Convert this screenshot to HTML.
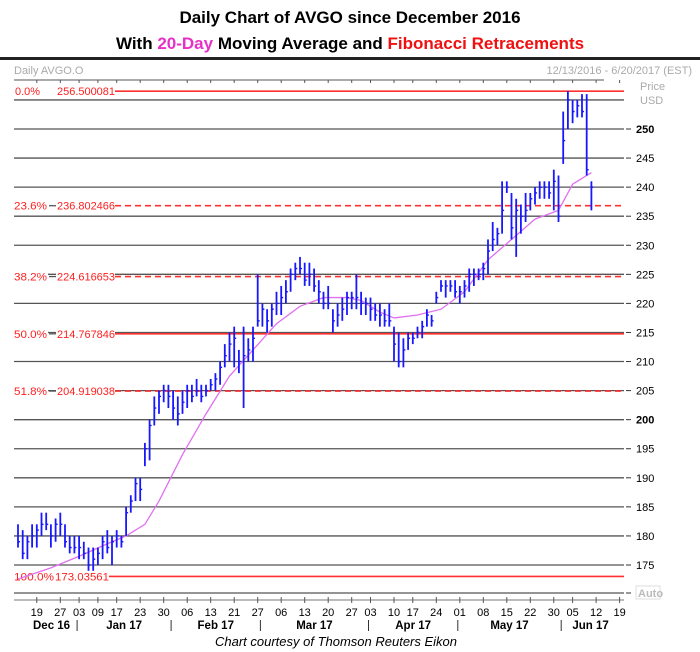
<!DOCTYPE html>
<html><head><meta charset="utf-8"><style>
body{margin:0;background:#fff;width:700px;height:652px;overflow:hidden;font-family:"Liberation Sans",sans-serif}
.t{position:absolute;left:0;width:700px;text-align:center;font-weight:bold;font-size:17px;color:#000}
</style></head><body>
<div class="t" style="top:8px">Daily Chart of AVGO since December 2016</div>
<div class="t" style="top:34px">With <span style="color:#e830c8">20-Day</span> Moving Average and <span style="color:#f01010">Fibonacci Retracements</span></div>
<svg id="c" width="700" height="652" style="position:absolute;left:0;top:0" xmlns="http://www.w3.org/2000/svg"></svg>
<script>
const hi=[182,181,180,182,182,184,184,182,183,184,182,180,180,
180,179,178,178,178,180,181,180,181,180,185,187,190,190,196,200,204,205,206,206,
205,204,205,206,206,207,206,206,207,208,210,213,215,216,212,216,214,216,
225,220,219,220,222,223,224,226,227,228,227,227,226,224,222,223,219,220,221,222,222,225,222,
221,221,220,220,219,220,216,215,214,215,215,216,217,219,218,222,224,224,224,
224,223,224,226,226,226,227,231,234,233,241,241,239,238,237,239,239,240,241,241,241,243,
242,253,256.5,255,255,256,256,241];
const lo=[178,176,176,178,178,180,181,178,179,180,178,177,177,
176,176,174,174,175,176,177,175,178,178,180,184,186,186,192,193,199,201,203,202,
200,199,201,202,203,204,203,204,205,205,206,209,210,209,208,202,210,210,
216,216,215,216,218,218,220,222,224,225,223,223,222,220,219,219,215,216,217,218,219,219,218,
218,217,217,216,216,216,210,209,209,212,213,214,214,216,216,220,222,221,222,
221,220,221,222,223,224,224,225,229,230,232,239,231,228,232,234,236,237,238,238,238,236,
234,244,250,251,252,252,242,236];
const cl=[179,177,179,180,181,182,182,180,182,182,179,178,178,
178,177,175,176,177,179,178,179,180,179,184,186,189,188,195,199,202,204,205,204,
202,201,203,205,204,205,204,205,206,207,209,211,213,214,210,211,212,214,
217,219,217,219,220,221,222,225,226,226,224,225,223,222,220,220,217,218,219,221,221,221,220,
220,219,218,218,217,217,213,210,212,214,214,215,216,218,217,221,223,223,223,
222,222,223,225,225,225,226,229,231,232,236,240,233,236,235,236,238,239,240,240,239,241,
235,248,255,253,254,253,243,240];
const maIdx=[0,7,13,20,23,27,30,35,40,45,50,55,60,65,70,73,77,80,85,90,95,100,105,110,115,118,122];
const maVal=[172.6,174.5,176.5,179,180,182,186,194,201,207.5,212,216.5,219.5,221,221,220.5,218.5,217.5,218,219,222,227.5,231,234.5,236,240.5,242.5];
const fibPct=["0.0%","23.6%","38.2%","50.0%","51.8%","100.0%"];
const fibVal=[256.500081,236.802466,224.616653,214.767846,204.919038,173.03561];
const fibDash=[false,true,true,false,true,false];
const gridVals=[175,180,185,190,195,200,205,210,215,220,225,230,235,240,245,250,255];
const dayLabels=["19","27","03","09","17","23","30","06","13","21","27","06","13","20","27","03","10","17","24","01","08","15","22","30","05","12","19"];
const dayIdx=[4,9,13,17,21,26,31,36,41,46,51,56,61,66,71,75,80,84,89,94,99,104,109,114,118,123,128];
const months=["Dec 16","Jan 17","Feb 17","Mar 17","Apr 17","May 17","Jun 17"];
const monthStart=[-1,13,33,52,75,94,116];
const NS="http://www.w3.org/2000/svg",svg=document.getElementById('c');
const X=i=>18+i*4.7, Y=p=>129+(250-p)*5.8133;
function mk(t,a,txt){const e=document.createElementNS(NS,t);for(const k in a)e.setAttribute(k,a[k]);if(txt!=null)e.textContent=txt;svg.appendChild(e);return e;}
let e;
e=mk('rect',{x:0,y:57,width:700,height:3,fill:'#222'});


e=mk('text',{x:14,y:74,'font-size':11,fill:'#aaa'},'Daily AVGO.O');


e=mk('text',{x:692,y:74,'font-size':11,fill:'#aaa','text-anchor':'end'},'12/13/2016 - 6/20/2017 (EST)');


mk('line',{x1:14,y1:80,x2:604,y2:80,stroke:'#555','stroke-width':1});
for(let i=0;i<dayIdx.length;i++){mk('line',{x1:X(dayIdx[i]),y1:80,x2:X(dayIdx[i]),y2:83,stroke:'#555'});}
e=mk('text',{x:640,y:90,'font-size':11,fill:'#aaa'},'Price');


mk('text',{x:640,y:104,'font-size':11,fill:'#aaa'},'USD');
for(const g of gridVals){
 e=mk('line',{x1:14,y1:Y(g),x2:624,y2:Y(g),stroke:'#555','stroke-width':1.3});
 
 
 if(g<255){mk('line',{x1:626,y1:Y(g),x2:631,y2:Y(g),stroke:'#333'});
 e=mk('text',{x:636,y:Y(g)+4,'font-size':11,fill:'#000','font-weight':g%50==0?'bold':'normal'},g);
 
 }
}
for(let i=0;i<fibVal.length;i++){
 const y=Y(fibVal[i]);
 const px=i==0?15:14, pw=i==5?40:(i==0?25:33), vx=i==5?55:57, vw=i==5?54:58;
 const lx=vx+vw;
 e=mk('line',{x1:lx,y1:y,x2:624,y2:y,stroke:'#ff3030','stroke-width':1.6,'stroke-dasharray':fibDash[i]?'6,4':'none'});
 
 
 mk('rect',{x:px-1,y:y-7,width:pw+2,height:13,fill:'#fff'});
 mk('rect',{x:vx-1,y:y-7,width:vw+1,height:13,fill:'#fff'});
 if(i!=0&&i!=5) mk('line',{x1:px+pw+2,y1:y,x2:vx-1,y2:y,stroke:'#555','stroke-width':1.3});
 e=mk('text',{x:px,y:y+4,'font-size':11,fill:'#ff2020',textLength:pw,lengthAdjust:'spacingAndGlyphs'},fibPct[i]);
 
 
 e=mk('text',{x:vx,y:y+4,'font-size':11,fill:'#ff2020',textLength:vw,lengthAdjust:'spacingAndGlyphs'},fibVal[i].toFixed(i==5?5:6));
 
 
}
let pts=maIdx.map((k,i)=>X(k)+','+Y(maVal[i])).join(' ');
e=mk('polyline',{points:pts,fill:'none',stroke:'#e070f0','stroke-width':1.3});


for(let i=0;i<hi.length;i++){
 const x=X(i);
 e=mk('line',{x1:x,y1:Y(hi[i]),x2:x,y2:Y(lo[i]),stroke:'#1818ff','stroke-width':1.8});
 
 
 mk('line',{x1:x,y1:Y(cl[i]),x2:x+2,y2:Y(cl[i]),stroke:'#1818ff','stroke-width':1.4});
}
mk('line',{x1:14,y1:593,x2:624,y2:593,stroke:'#555','stroke-width':1.3});
mk('line',{x1:626,y1:593,x2:631,y2:593,stroke:'#333'});
e=mk('rect',{x:636,y:586,width:24,height:13,fill:'#fff',stroke:'#ddd'});


mk('text',{x:638,y:597,'font-size':11,fill:'#bbb','font-weight':'bold'},'Auto');
mk('line',{x1:14,y1:600,x2:624,y2:600,stroke:'#777'});
for(let i=0;i<dayIdx.length;i++){
 const x=X(dayIdx[i]);
 mk('line',{x1:x,y1:597,x2:x,y2:603,stroke:'#555'});
 e=mk('text',{x:x,y:616,'font-size':11,'text-anchor':'middle',fill:'#000'},dayLabels[i]);
 
 
}
for(let i=0;i<months.length;i++){
 const s=monthStart[i]<0?14:X(monthStart[i])-2, en=i<months.length-1?X(monthStart[i+1])-2:620;
 if(monthStart[i]>=0)mk('line',{x1:s,y1:620,x2:s,y2:631,stroke:'#333'});
 e=mk('text',{x:(s+en)/2+(i==0?6:0),y:629,'font-size':11.5,'font-weight':'bold','text-anchor':'middle',fill:'#000'},months[i]);
 
 
}
e=mk('text',{x:336,y:646,'font-size':13,'font-style':'italic','text-anchor':'middle',fill:'#000'},'Chart courtesy of Thomson Reuters Eikon');


</script>
</body></html>
